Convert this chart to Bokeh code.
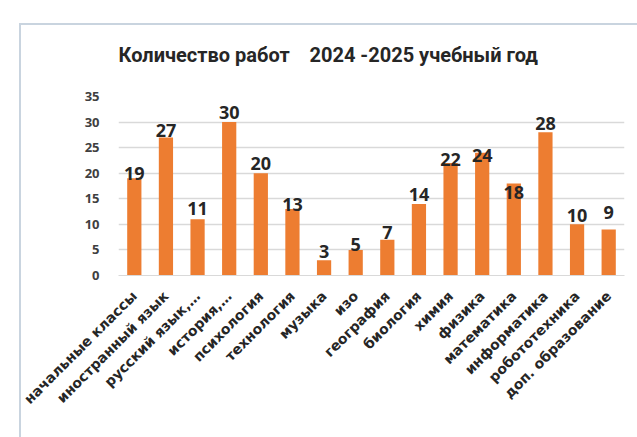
import math
from bokeh.plotting import figure
from bokeh.models import FactorRange, Range1d, LabelSet, ColumnDataSource, Div
from bokeh.layouts import column
from bokeh.core.properties import value
from bokeh.embed import file_html
from bokeh.resources import INLINE

# ---- data ----
categories = ["начальные классы", "иностранный язык", "русский язык,…", "история,…",
              "психология", "технология", "музыка", "изо", "география", "биология",
              "химия", "физика", "математика", "информатика", "робототехника",
              "доп. образование"]
values = [19, 27, 11, 30, 20, 13, 3, 5, 7, 14, 22, 24, 18, 28, 10, 9]
y_ticks = [0, 5, 10, 15, 20, 25, 30, 35]
title_text = "Количество работ \u00a0\u00a0\u00a02024 -2025 учебный год"

# ---- style ----
label_gap = [2, 4, 8, 7, 7, 2, 6, 3, 5, 7, 1, -5, -12, 6, 6, 14]
BAR = "#ED7D31"
GRID = "#d9d9d9"
TXT = "#262626"
FRAME = "#c9d4df"

src = ColumnDataSource(dict(cat=categories, val=values,
                            lab=[str(v) for v in values],
                            off=[g - 4 for g in label_gap]))

p = figure(x_range=FactorRange(*categories), y_range=Range1d(0, 35),
           width=632, height=417, output_backend="svg", toolbar_location=None,
           min_border_left=118, min_border_right=8, min_border_top=76,
           min_border_bottom=152)
p.x_range.range_padding = 0

p.title.text = title_text
p.title.align = "left"
p.title.offset = 0
p.title.standoff = 60
p.title.text_font = "Roboto"
p.title.text_font_style = "bold"
p.title.text_font_size = "20px"
p.title.text_color = TXT

p.vbar(x="cat", top="val", width=0.45, source=src, color=BAR, line_color=None)

labels = LabelSet(x="cat", y="val", text="lab", y_offset="off", source=src,
                  text_align="center", text_baseline="bottom",
                  text_font=value("Open Sans"), text_font_style="bold",
                  text_font_size="18px", text_color=TXT)
p.add_layout(labels)

p.xgrid.grid_line_color = None
p.ygrid.grid_line_color = GRID
p.ygrid.grid_line_width = 1.5
p.yaxis.ticker = y_ticks
p.yaxis.axis_line_color = None
p.yaxis.major_tick_line_color = None
p.yaxis.minor_tick_line_color = None
p.yaxis.major_label_standoff = 13
p.yaxis.major_label_text_font = "Open Sans"
p.yaxis.major_label_text_font_style = "bold"
p.yaxis.major_label_text_font_size = "13px"
p.yaxis.major_label_text_color = "#404040"

p.xaxis.axis_line_color = GRID
p.xaxis.major_tick_line_color = None
p.xaxis.minor_tick_line_color = None
p.xaxis.major_label_orientation = math.pi / 4
p.xaxis.major_label_standoff = 12
p.xaxis.major_label_text_font = "DejaVu Sans"
p.xaxis.major_label_text_font_style = "bold"
p.xaxis.major_label_text_font_size = "14px"
p.xaxis.major_label_text_color = TXT

p.outline_line_color = None
p.background_fill_color = "white"
p.border_fill_color = "white"

# light frame of the chart area (top and left edges)
frame_div = Div(
    text=(f'<div style="position:fixed; left:19px; top:23px; width:700px; height:500px; '
          f'border-top:2px solid {FRAME}; border-left:2px solid {FRAME}; '
          f'pointer-events:none; z-index:10;"></div>'),
    width=1, height=0)

layout = column(frame_div, p, spacing=0)

open("out.html", "w").write(file_html(layout, INLINE))
